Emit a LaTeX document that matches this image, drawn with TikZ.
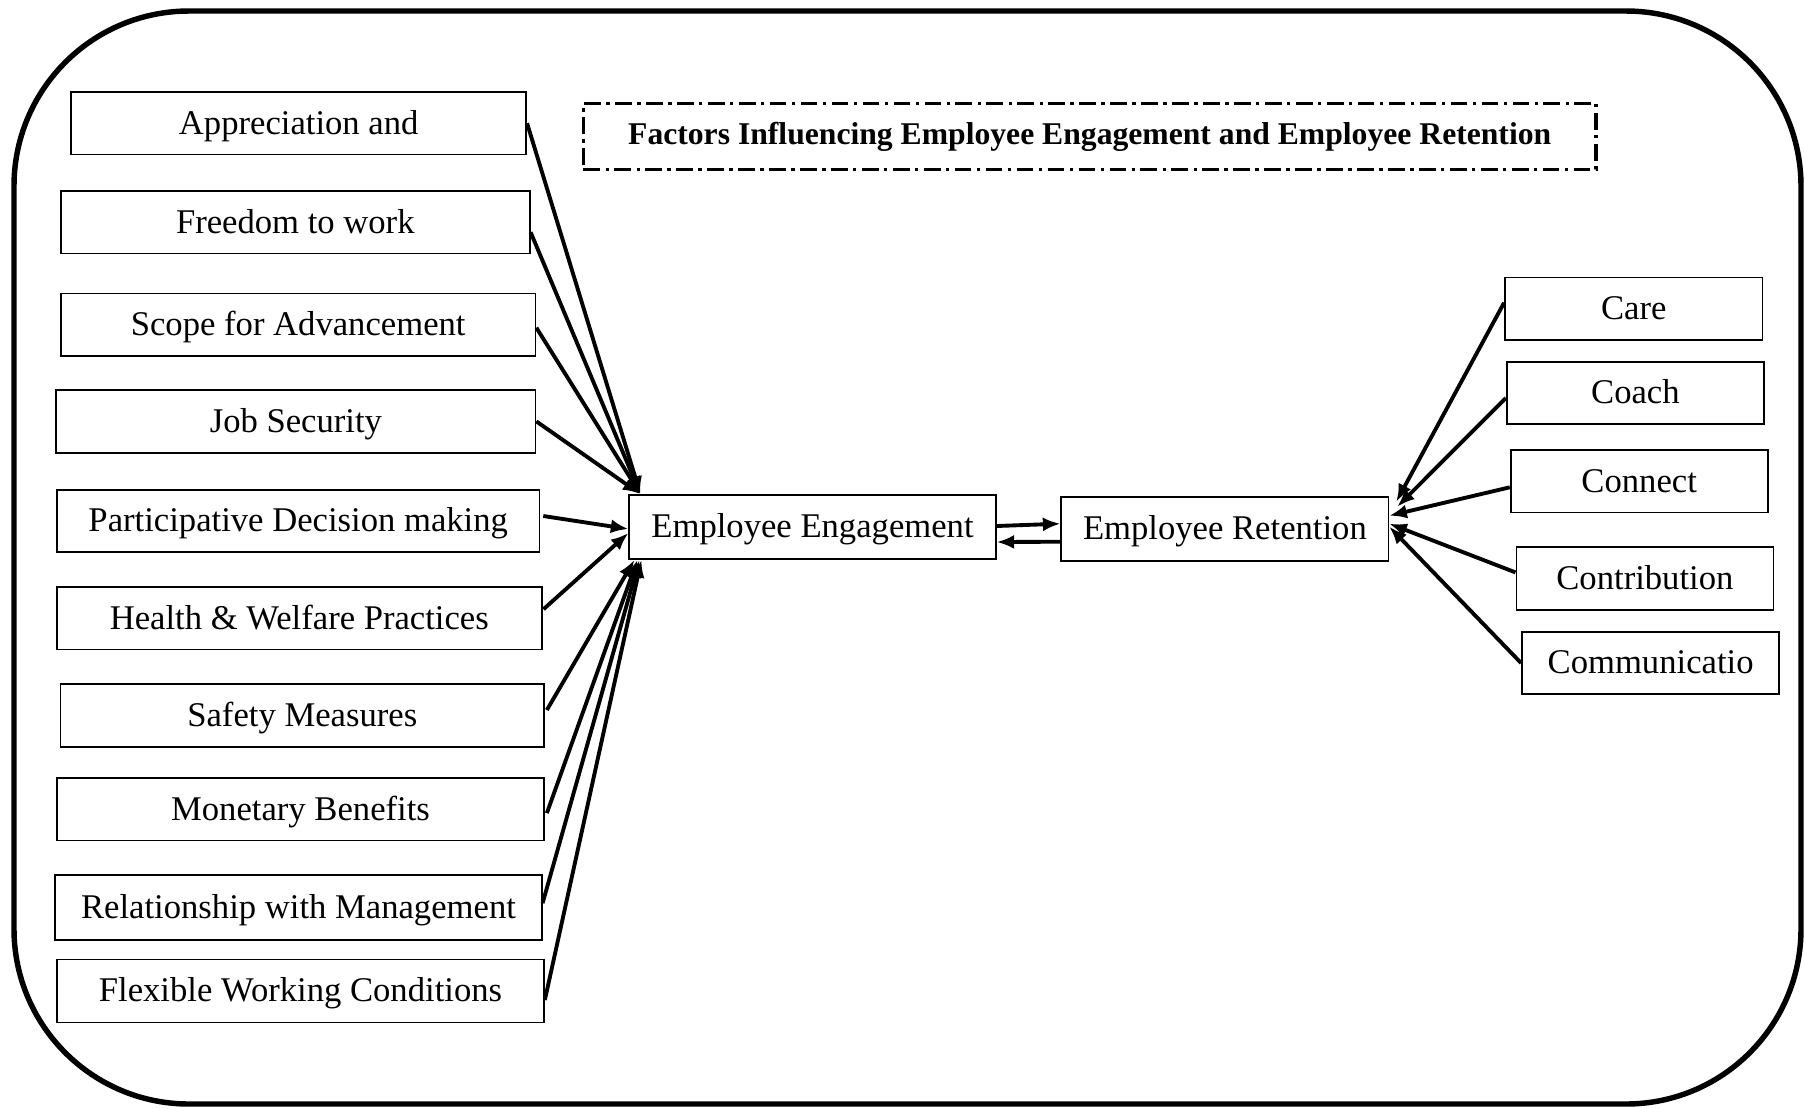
\documentclass[tikz,border=0pt]{standalone}
\usepackage{fontspec}
\setmainfont{Liberation Serif}
\usetikzlibrary{arrows.meta}

\begin{document}
\begin{tikzpicture}[x=0.01cm,y=-0.01cm,>={Latex[length=5pt,width=4pt]},
  factor/.style={draw,line width=0.5pt,inner sep=0pt,minimum height=0.625cm,
    text height=8.2pt,text depth=2pt,font=\fontsize{9.85pt}{11pt}\selectfont},
  link/.style={->,line width=1.1pt}]
  \useasboundingbox (0,0) rectangle (1805,1108);
  \draw[line width=1.55pt,rounded corners=1.75cm] (14,11) rectangle (1801,1104);

  \node[draw,line width=0.9pt,dash pattern=on 4.75pt off 1.55pt on 0.95pt off 1.55pt,
    minimum width=10.12cm,minimum height=0.656cm,
    font=\bfseries\fontsize{9pt}{11pt}\selectfont] (title) at (1089.7,136.4)
    {Factors Influencing Employee Engagement and Employee Retention};

  % engagement factors
  \node[factor,minimum width=4.547cm] (appr) at (298.7,123.2) {Appreciation and};
  \node[factor,minimum width=4.686cm] (free) at (295.3,222.2) {Freedom to work};
  \node[factor,minimum width=4.743cm] (scope) at (298.2,324.7) {Scope for Advancement};
  \node[factor,minimum width=4.789cm] (job) at (295.9,421.4) {Job Security};
  \node[factor,minimum width=4.821cm] (part) at (298.2,521) {Participative Decision making};
  \node[factor,minimum width=4.844cm] (health) at (299.3,618.2) {Health \& Welfare Practices};
  \node[factor,minimum width=4.831cm] (safety) at (302.3,715.5) {Safety Measures};
  \node[factor,minimum width=4.867cm] (money) at (300.5,809.1) {Monetary Benefits};
  \node[factor,minimum width=4.861cm,minimum height=0.651cm] (rel) at (298.5,907.2) {Relationship with Management};
  \node[factor,minimum width=4.867cm,minimum height=0.629cm] (flex) at (300.5,990.9) {Flexible Working Conditions};

  \node[factor,minimum width=3.662cm,minimum height=0.64cm] (eng) at (812.5,527) {Employee Engagement};
  \node[factor,minimum width=3.269cm,minimum height=0.639cm] (ret) at (1224.9,528.7) {Employee Retention};

  % retention factors
  \node[factor,minimum width=2.573cm] (care) at (1633.7,308.7) {Care};
  \node[factor,minimum width=2.573cm] (coach) at (1635.4,393) {Coach};
  \node[factor,minimum width=2.570cm] (conn) at (1639.2,481.3) {Connect};
  \node[factor,minimum width=2.569cm] (contrib) at (1644.9,578.4) {Contribution};
  \node[factor,minimum width=2.571cm] (comm) at (1650.6,663) {Communicatio};

  \foreach \f/\s in {appr/0,free/-0.1,scope/-0.03,job/0}
    \draw[link] ([yshift=\s cm]\f.east) -- ([xshift=0.12cm]eng.north west);
  \draw[link] ([xshift=0.03cm,yshift=0.05cm]part.east) -- ([yshift=-0.02cm]eng.west);
  \draw[link] ([xshift=0.01cm,yshift=0.09cm]health.east) -- ([yshift=-0.06cm]eng.west);
  \draw[link] ([xshift=0.02cm,yshift=0.055cm]safety.east) -- ([xshift=0.06cm]eng.south west);
  \draw[link] ([xshift=0.02cm,yshift=-0.04cm]money.east) -- ([xshift=0.09cm]eng.south west);
  \draw[link] ([yshift=0.04cm]rel.east) -- ([xshift=0.11cm]eng.south west);
  \draw[link] ([yshift=-0.09cm]flex.east) -- ([xshift=0.13cm]eng.south west);

  \draw[link] ([yshift=0.01cm]eng.east) -- ([yshift=0.05cm]ret.west);
  \draw[link] ([yshift=-0.13cm]ret.west) -- ([yshift=-0.15cm]eng.east);

  \draw[link] ([yshift=0.06cm]care.west) -- ([xshift=0.07cm,yshift=0.27cm]ret.east);
  \draw[link] ([yshift=-0.05cm]coach.west) -- ([xshift=0.08cm,yshift=0.22cm]ret.east);
  \draw[link] ([yshift=-0.06cm]conn.west) -- ([yshift=0.13cm]ret.east);
  \draw[link] ([yshift=0.06cm]contrib.west) -- ([yshift=0.05cm]ret.east);
  \draw[link] (comm.west) -- ([yshift=0.02cm]ret.east);
\end{tikzpicture}
\end{document}
